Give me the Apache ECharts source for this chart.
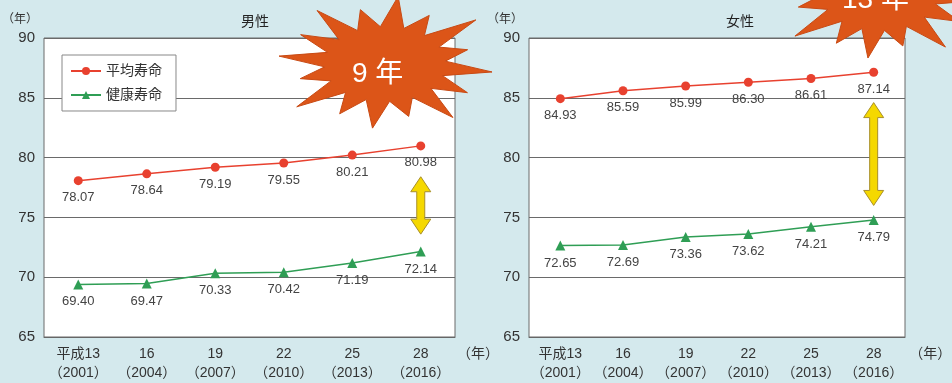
<!DOCTYPE html>
<html>
<head>
<meta charset="utf-8">
<script src="https://cdn.jsdelivr.net/npm/echarts@6/dist/echarts.min.js"></script>
<style>
  html, body { margin: 0; padding: 0; background: #d4e9ed; }
  #main { width: 952px; height: 383px; }
</style>
</head>
<body>
<div id="main"></div>
<script>
// data
var categories = ['平成13\n（2001）', '16\n（2004）', '19\n（2007）', '22\n（2010）', '25\n（2013）', '28\n（2016）'];
var maleLife = [78.07, 78.64, 79.19, 79.55, 80.21, 80.98];
var maleHealth = [69.40, 69.47, 70.33, 70.42, 71.19, 72.14];
var femaleLife = [84.93, 85.59, 85.99, 86.30, 86.61, 87.14];
var femaleHealth = [72.65, 72.69, 73.36, 73.62, 74.21, 74.79];
var gapLabels = ['9 年', '13 年'];

var FONT = '"Liberation Sans", "Noto Sans CJK JP", sans-serif';
var RED = '#e8412f';
var GREEN = '#2f9e55';

var chart = echarts.init(document.getElementById('main'));

function xAxis(idx) {
  return {
    type: 'category', gridIndex: idx, data: categories,
    name: '（年）', nameLocation: 'end', nameGap: 2,
    nameTextStyle: { fontSize: 14, color: '#333', verticalAlign: 'top', padding: [10, 0, 0, 0], fontFamily: FONT },
    axisLine: { lineStyle: { color: '#666' } },
    axisTick: { inside: true, length: 5, lineStyle: { color: '#666' } },
    axisLabel: { interval: 0, color: '#333', fontSize: 14, lineHeight: 19, margin: 8, fontFamily: FONT }
  };
}
function yAxis(idx) {
  return {
    type: 'value', gridIndex: idx, min: 65, max: 90, interval: 5,
    name: '（年）', nameGap: 12,
    nameTextStyle: { fontSize: 12, color: '#333', align: 'right', padding: [0, 6, 0, 0], fontFamily: FONT },
    axisLine: { show: false }, axisTick: { show: false },
    axisLabel: { color: '#333', fontSize: 15, margin: 9, fontFamily: FONT },
    splitLine: { lineStyle: { color: '#6a6a6a', width: 1 } }
  };
}
function line(name, data, idx, color, symbol, size) {
  return {
    name: name, type: 'line', xAxisIndex: idx, yAxisIndex: idx, data: data,
    symbol: symbol, symbolSize: size,
    lineStyle: { color: color, width: 1.5 }, itemStyle: { color: color },
    label: { show: true, position: 'bottom', distance: 6, color: '#444', fontSize: 13, fontFamily: FONT,
      formatter: function (p) { return p.value.toFixed(2); } },
    z: 3
  };
}

function starPoints(cx, cy, rx, ry, spikes) {
  var pts = [];
  var n = spikes.length;
  for (var i = 0; i < n * 2; i++) {
    var a = Math.PI * i / n - Math.PI / 2 + 0.12;
    var r = i % 2 === 0 ? spikes[i / 2] : 0.55;
    pts.push([cx + Math.cos(a) * rx * r, cy + Math.sin(a) * ry * r]);
  }
  return pts;
}
var spikeA = [1.0, 0.82, 1.05, 0.78, 0.98, 0.86, 1.0, 0.8, 0.95, 0.84, 1.02, 0.8, 0.97, 0.88, 1.0, 0.83];

var option = {
  backgroundColor: '#d4e9ed',
  textStyle: { fontFamily: FONT },
  title: [
    { text: '男性', left: 250, top: 10, textAlign: 'center', textStyle: { fontSize: 14, fontWeight: 'normal', color: '#222', fontFamily: FONT } },
    { text: '女性', left: 735, top: 10, textAlign: 'center', textStyle: { fontSize: 14, fontWeight: 'normal', color: '#222', fontFamily: FONT } }
  ],
  legend: {
    data: [{ name: '平均寿命' }, { name: '健康寿命' }],
    orient: 'vertical', left: 62, top: 55,
    backgroundColor: '#fff', borderColor: '#888', borderWidth: 1,
    padding: [9, 14, 9, 8], itemGap: 10, itemWidth: 30, itemHeight: 10,
    textStyle: { fontSize: 14, color: '#333', fontFamily: FONT }, z: 10
  },
  grid: [
    { left: 44, right: 497, top: 38, bottom: 43, show: true, backgroundColor: '#fff', borderColor: '#6a6a6a' },
    { left: 529, right: 12, top: 38, bottom: 43, show: true, backgroundColor: '#fff', borderColor: '#6a6a6a' }
  ],
  xAxis: [xAxis(0), xAxis(1)],
  yAxis: [yAxis(0), yAxis(1)],
  series: [
    line('平均寿命', maleLife, 0, RED, 'circle', 9),
    line('健康寿命', maleHealth, 0, GREEN, 'triangle', 10),
    line('平均寿命', femaleLife, 1, RED, 'circle', 9),
    line('健康寿命', femaleHealth, 1, GREEN, 'triangle', 10)
  ]
};
chart.setOption(option);

function arrow(x, y1, y2) {
  var hw = 10, sw = 4, hh = 15;
  return {
    type: 'polygon', z: 20,
    shape: { points: [[x, y1], [x + hw, y1 + hh], [x + sw, y1 + hh], [x + sw, y2 - hh], [x + hw, y2 - hh],
      [x, y2], [x - hw, y2 - hh], [x - sw, y2 - hh], [x - sw, y1 + hh], [x - hw, y1 + hh]] },
    style: { fill: '#f5d800', stroke: '#a88f2a', lineWidth: 1 }
  };
}
var lastIdx = categories.length - 1;
var pL1 = chart.convertToPixel({ gridIndex: 0 }, [lastIdx, 78.4]);
var pL2 = chart.convertToPixel({ gridIndex: 0 }, [lastIdx, 73.6]);
var pR1 = chart.convertToPixel({ gridIndex: 1 }, [lastIdx, 84.6]);
var pR2 = chart.convertToPixel({ gridIndex: 1 }, [lastIdx, 76.0]);

chart.setOption({
  graphic: [
    { type: 'polygon', z: 30, shape: { points: starPoints(385, 64, 110, 68, spikeA) },
      style: { fill: '#dc5518', stroke: '#c84a14', lineWidth: 1 } },
    { type: 'text', z: 31, left: 352, top: 60, style: { text: gapLabels[0], fill: '#fff', fontSize: 28, fontFamily: FONT } },
    { type: 'polygon', z: 30, shape: { points: starPoints(880, -8, 106, 70, spikeA) },
      style: { fill: '#dc5518', stroke: '#c84a14', lineWidth: 1 } },
    { type: 'text', z: 31, left: 842, top: -14, style: { text: gapLabels[1], fill: '#fff', fontSize: 28, fontFamily: FONT } },
    arrow(pL1[0], pL1[1], pL2[1]),
    arrow(pR1[0], pR1[1], pR2[1])
  ]
});
</script>
</body>
</html>
